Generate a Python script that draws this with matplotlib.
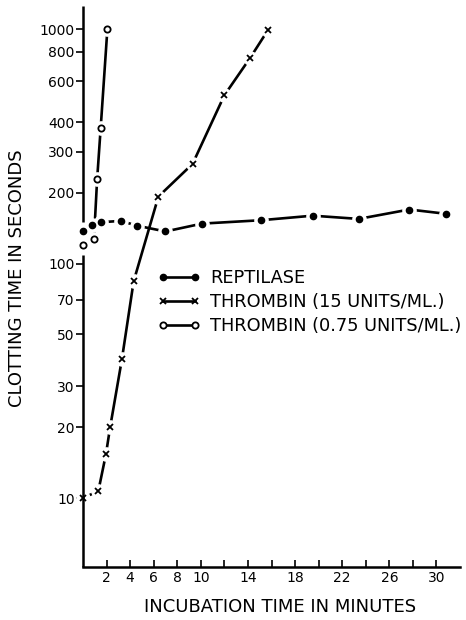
import matplotlib
matplotlib.use("Agg")
import matplotlib.pyplot as plt
from matplotlib.lines import Line2D

plt.rcParams["font.family"] = ["DejaVu Sans"]

# data (minutes, seconds)
rep_x = [0, 0.8, 1.5, 3.2, 4.6, 7.0, 10.1, 15.1, 19.5, 23.4, 27.7, 30.8]
rep_y = [137, 146, 150, 152, 145, 137, 148, 153, 160, 155, 170, 163]

thr15_x = [0, 1.3, 1.95, 2.3, 3.3, 4.3, 6.4, 9.3, 12.0, 14.2, 15.7]
thr15_y = [10, 10.7, 15.4, 20, 39, 84, 193, 266, 522, 755, 990]

thr075_x = [0, 0.93, 1.2, 1.5, 2.07]
thr075_y = [120, 127, 229, 378, 1000]

labels = ["REPTILASE", "THROMBIN (15 UNITS/ML.)", "THROMBIN (0.75 UNITS/ML.)"]

yticks = [10, 20, 30, 50, 70, 100, 200, 300, 400, 600, 800, 1000]
xticks = list(range(2, 31, 2))
xtick_labels = [str(t) if t in (2, 4, 6, 8, 10, 14, 18, 22, 26, 30) else "" for t in xticks]

fig = plt.figure(figsize=(4.66, 6.2), dpi=100)
ax = fig.add_axes([83 / 466, 1 - 567 / 620, (460 - 83) / 466, (567 - 6) / 620])
ax.set_yscale("log")
ax.set_xlim(0, 32)
ax.set_ylim(5.08, 1254)

# lines first, then white halos so lines stop short of markers, then markers
series = [
    (rep_x, rep_y, dict(marker="o", mfc="black", mec="black", ms=4.5, mew=1)),
    (thr15_x, thr15_y, dict(marker="x", mfc="black", mec="black", ms=4.5, mew=1.3)),
    (thr075_x, thr075_y, dict(marker="o", mfc="white", mec="black", ms=4.5, mew=1.3)),
]
for x, y, st in series:
    ax.plot(x, y, color="black", lw=1.9, zorder=2, clip_on=False)
    ax.plot(x, y, ls="none", marker="o", ms=9.5, mfc="white", mec="white", zorder=3, clip_on=False)
    ax.plot(x, y, ls="none", zorder=4, clip_on=False, **st)

# broken y axis line
for s in ["top", "right", "left"]:
    ax.spines[s].set_visible(False)
ax.spines["bottom"].set_linewidth(1.8)
ax.vlines([0, 0], [5.08, 151], [109, 1254], color="black", lw=1.8, zorder=5, clip_on=False)

ax.minorticks_off()
ax.set_yticks(yticks)
ax.set_yticklabels([str(t) for t in yticks])
ax.set_xticks(xticks)
ax.set_xticklabels(xtick_labels)
ax.tick_params(axis="y", direction="out", length=5, width=1.2, pad=1, labelsize=10)
ax.tick_params(axis="x", direction="in", length=5, width=1.2, pad=3, labelsize=10)

handles = [Line2D([], [], color="black", lw=1.9, **st) for _, _, st in series]
ax.legend(handles, labels, loc="upper left", bbox_to_anchor=(158 / 466, 1 - 269 / 620),
          bbox_transform=fig.transFigure, frameon=False, numpoints=2, fontsize=12.8,
          handlelength=2.4, handletextpad=0.55, labelspacing=0.35, borderpad=0, borderaxespad=0)

fig.text(17 / 466, 1 - 278 / 620, "CLOTTING TIME IN SECONDS", rotation=90,
         ha="center", va="center", fontsize=13)
fig.text(280 / 466, 1 - 607 / 620, "INCUBATION TIME IN MINUTES",
         ha="center", va="center", fontsize=13)

fig.savefig("out.png", dpi=100)
